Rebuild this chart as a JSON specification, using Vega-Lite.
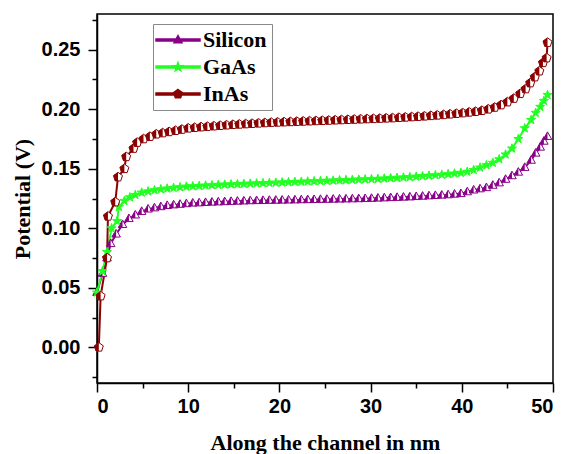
{
"$schema": "https://vega.github.io/schema/vega-lite/v6.json",
"width": 456, "height": 369,
"autosize": {"type": "none"},
"padding": {"left": 97, "top": 14, "right": 12, "bottom": 71},
"background": "white",
"config": {
  "view": {"stroke": "black", "strokeWidth": 1.5},
  "axis": {"domainColor": "black", "domainWidth": 1.5, "tickColor": "black", "tickWidth": 1.5, "grid": false,
    "labelFont": "Liberation Sans", "labelFontWeight": "bold", "labelFontSize": 20, "labelColor": "black",
    "titleFont": "Liberation Serif", "titleFontWeight": "bold", "titleFontSize": 22, "titleColor": "black", "labelOverlap": false},
  "legend": {"orient": "none", "legendX": 56, "legendY": 10, "strokeColor": "#888888", "fillColor": "white",
    "padding": 5, "labelFont": "Liberation Serif", "labelFontSize": 22, "labelFontWeight": "bold", "labelColor": "black",
    "symbolSize": 100, "symbolOffset": 9, "labelOffset": 14, "rowPadding": 5, "symbolOpacity": 1}
},
"data": {"values": [
{"s":"Silicon","x":0,"y":0.046},{"s":"Silicon","x":0.6,"y":0.062},{"s":"Silicon","x":1.1,"y":0.075},{"s":"Silicon","x":1.5,"y":0.087},{"s":"Silicon","x":2.1,"y":0.095},{"s":"Silicon","x":2.8,"y":0.103},{"s":"Silicon","x":3.5,"y":0.108},{"s":"Silicon","x":4.2,"y":0.111},{"s":"Silicon","x":4.9,"y":0.114},{"s":"Silicon","x":5.6,"y":0.116},{"s":"Silicon","x":6.3,"y":0.117},{"s":"Silicon","x":7.0,"y":0.118},{"s":"Silicon","x":7.7,"y":0.119},{"s":"Silicon","x":8.4,"y":0.1195},{"s":"Silicon","x":9.1,"y":0.12},{"s":"Silicon","x":9.8,"y":0.1205},{"s":"Silicon","x":10.5,"y":0.121},{"s":"Silicon","x":11.2,"y":0.1212},{"s":"Silicon","x":11.9,"y":0.1215},{"s":"Silicon","x":12.6,"y":0.1218},{"s":"Silicon","x":13.3,"y":0.122},{"s":"Silicon","x":14.0,"y":0.1222},{"s":"Silicon","x":14.7,"y":0.1224},{"s":"Silicon","x":15.4,"y":0.1226},{"s":"Silicon","x":16.1,"y":0.1228},{"s":"Silicon","x":16.8,"y":0.123},{"s":"Silicon","x":17.5,"y":0.1231},{"s":"Silicon","x":18.2,"y":0.1232},{"s":"Silicon","x":18.9,"y":0.1233},{"s":"Silicon","x":19.6,"y":0.1234},{"s":"Silicon","x":20.3,"y":0.1235},{"s":"Silicon","x":21.0,"y":0.1236},{"s":"Silicon","x":21.7,"y":0.1237},{"s":"Silicon","x":22.4,"y":0.1238},{"s":"Silicon","x":23.1,"y":0.1239},{"s":"Silicon","x":23.8,"y":0.124},{"s":"Silicon","x":24.5,"y":0.1241},{"s":"Silicon","x":25.2,"y":0.1242},{"s":"Silicon","x":25.9,"y":0.1243},{"s":"Silicon","x":26.6,"y":0.1244},{"s":"Silicon","x":27.3,"y":0.1245},{"s":"Silicon","x":28.0,"y":0.1246},{"s":"Silicon","x":28.7,"y":0.1247},{"s":"Silicon","x":29.4,"y":0.1248},{"s":"Silicon","x":30.1,"y":0.125},{"s":"Silicon","x":30.8,"y":0.1252},{"s":"Silicon","x":31.5,"y":0.1254},{"s":"Silicon","x":32.2,"y":0.1256},{"s":"Silicon","x":32.9,"y":0.1258},{"s":"Silicon","x":33.6,"y":0.126},{"s":"Silicon","x":34.3,"y":0.1262},{"s":"Silicon","x":35.0,"y":0.1265},{"s":"Silicon","x":35.7,"y":0.1268},{"s":"Silicon","x":36.4,"y":0.1271},{"s":"Silicon","x":37.1,"y":0.1274},{"s":"Silicon","x":37.8,"y":0.1277},{"s":"Silicon","x":38.5,"y":0.128},{"s":"Silicon","x":39.2,"y":0.1285},{"s":"Silicon","x":39.9,"y":0.129},{"s":"Silicon","x":40.6,"y":0.1305},{"s":"Silicon","x":41.3,"y":0.132},{"s":"Silicon","x":42.0,"y":0.133},{"s":"Silicon","x":42.7,"y":0.134},{"s":"Silicon","x":43.4,"y":0.136},{"s":"Silicon","x":44.1,"y":0.138},{"s":"Silicon","x":44.8,"y":0.141},{"s":"Silicon","x":45.5,"y":0.144},{"s":"Silicon","x":46.2,"y":0.147},{"s":"Silicon","x":46.9,"y":0.151},{"s":"Silicon","x":47.6,"y":0.157},{"s":"Silicon","x":48.1,"y":0.163},{"s":"Silicon","x":48.6,"y":0.168},{"s":"Silicon","x":49.0,"y":0.173},{"s":"Silicon","x":49.4,"y":0.177},
{"s":"GaAs","x":0,"y":0.046},{"s":"GaAs","x":0.6,"y":0.064},{"s":"GaAs","x":1.1,"y":0.08},{"s":"GaAs","x":1.6,"y":0.1},{"s":"GaAs","x":2.2,"y":0.106},{"s":"GaAs","x":2.4,"y":0.118},{"s":"GaAs","x":3.0,"y":0.123},{"s":"GaAs","x":3.6,"y":0.126},{"s":"GaAs","x":4.2,"y":0.128},{"s":"GaAs","x":4.9,"y":0.13},{"s":"GaAs","x":5.6,"y":0.131},{"s":"GaAs","x":6.3,"y":0.132},{"s":"GaAs","x":7.0,"y":0.1328},{"s":"GaAs","x":7.7,"y":0.1334},{"s":"GaAs","x":8.4,"y":0.134},{"s":"GaAs","x":9.1,"y":0.1345},{"s":"GaAs","x":9.8,"y":0.135},{"s":"GaAs","x":10.5,"y":0.1353},{"s":"GaAs","x":11.2,"y":0.1356},{"s":"GaAs","x":11.9,"y":0.1359},{"s":"GaAs","x":12.6,"y":0.1362},{"s":"GaAs","x":13.3,"y":0.1365},{"s":"GaAs","x":14.0,"y":0.1367},{"s":"GaAs","x":14.7,"y":0.1369},{"s":"GaAs","x":15.4,"y":0.1371},{"s":"GaAs","x":16.1,"y":0.1373},{"s":"GaAs","x":16.8,"y":0.1375},{"s":"GaAs","x":17.5,"y":0.1377},{"s":"GaAs","x":18.2,"y":0.1379},{"s":"GaAs","x":18.9,"y":0.1381},{"s":"GaAs","x":19.6,"y":0.1383},{"s":"GaAs","x":20.3,"y":0.1385},{"s":"GaAs","x":21.0,"y":0.1387},{"s":"GaAs","x":21.7,"y":0.1389},{"s":"GaAs","x":22.4,"y":0.1391},{"s":"GaAs","x":23.1,"y":0.1393},{"s":"GaAs","x":23.8,"y":0.1395},{"s":"GaAs","x":24.5,"y":0.1397},{"s":"GaAs","x":25.2,"y":0.1399},{"s":"GaAs","x":25.9,"y":0.1401},{"s":"GaAs","x":26.6,"y":0.1403},{"s":"GaAs","x":27.3,"y":0.1405},{"s":"GaAs","x":28.0,"y":0.1407},{"s":"GaAs","x":28.7,"y":0.1409},{"s":"GaAs","x":29.4,"y":0.1411},{"s":"GaAs","x":30.1,"y":0.1413},{"s":"GaAs","x":30.8,"y":0.1415},{"s":"GaAs","x":31.5,"y":0.1418},{"s":"GaAs","x":32.2,"y":0.1421},{"s":"GaAs","x":32.9,"y":0.1424},{"s":"GaAs","x":33.6,"y":0.1427},{"s":"GaAs","x":34.3,"y":0.143},{"s":"GaAs","x":35.0,"y":0.1434},{"s":"GaAs","x":35.7,"y":0.1438},{"s":"GaAs","x":36.4,"y":0.1442},{"s":"GaAs","x":37.1,"y":0.1446},{"s":"GaAs","x":37.8,"y":0.145},{"s":"GaAs","x":38.5,"y":0.1455},{"s":"GaAs","x":39.2,"y":0.146},{"s":"GaAs","x":39.9,"y":0.1466},{"s":"GaAs","x":40.6,"y":0.1475},{"s":"GaAs","x":41.3,"y":0.149},{"s":"GaAs","x":42.0,"y":0.151},{"s":"GaAs","x":42.7,"y":0.153},{"s":"GaAs","x":43.4,"y":0.155},{"s":"GaAs","x":44.1,"y":0.158},{"s":"GaAs","x":44.8,"y":0.162},{"s":"GaAs","x":45.5,"y":0.167},{"s":"GaAs","x":46.2,"y":0.175},{"s":"GaAs","x":46.9,"y":0.184},{"s":"GaAs","x":47.6,"y":0.191},{"s":"GaAs","x":48.1,"y":0.197},{"s":"GaAs","x":48.6,"y":0.202},{"s":"GaAs","x":49.0,"y":0.207},{"s":"GaAs","x":49.4,"y":0.212},
{"s":"InAs","x":0.2,"y":0.0},{"s":"InAs","x":0.4,"y":0.043},{"s":"InAs","x":1.1,"y":0.075},{"s":"InAs","x":1.2,"y":0.11},{"s":"InAs","x":2.0,"y":0.122},{"s":"InAs","x":2.3,"y":0.143},{"s":"InAs","x":3.0,"y":0.15},{"s":"InAs","x":3.2,"y":0.16},{"s":"InAs","x":4.0,"y":0.167},{"s":"InAs","x":4.4,"y":0.172},{"s":"InAs","x":5.1,"y":0.175},{"s":"InAs","x":5.8,"y":0.177},{"s":"InAs","x":6.5,"y":0.179},{"s":"InAs","x":7.2,"y":0.18},{"s":"InAs","x":7.9,"y":0.181},{"s":"InAs","x":8.6,"y":0.182},{"s":"InAs","x":9.3,"y":0.183},{"s":"InAs","x":10.0,"y":0.184},{"s":"InAs","x":10.7,"y":0.1845},{"s":"InAs","x":11.4,"y":0.185},{"s":"InAs","x":12.1,"y":0.1854},{"s":"InAs","x":12.8,"y":0.1858},{"s":"InAs","x":13.5,"y":0.1862},{"s":"InAs","x":14.2,"y":0.1866},{"s":"InAs","x":14.9,"y":0.187},{"s":"InAs","x":15.6,"y":0.1873},{"s":"InAs","x":16.3,"y":0.1876},{"s":"InAs","x":17.0,"y":0.1879},{"s":"InAs","x":17.7,"y":0.1882},{"s":"InAs","x":18.4,"y":0.1885},{"s":"InAs","x":19.1,"y":0.1888},{"s":"InAs","x":19.8,"y":0.189},{"s":"InAs","x":20.5,"y":0.1892},{"s":"InAs","x":21.2,"y":0.1894},{"s":"InAs","x":21.9,"y":0.1896},{"s":"InAs","x":22.6,"y":0.1898},{"s":"InAs","x":23.3,"y":0.19},{"s":"InAs","x":24.0,"y":0.1902},{"s":"InAs","x":24.7,"y":0.1904},{"s":"InAs","x":25.4,"y":0.1906},{"s":"InAs","x":26.1,"y":0.1908},{"s":"InAs","x":26.8,"y":0.191},{"s":"InAs","x":27.5,"y":0.1912},{"s":"InAs","x":28.2,"y":0.1914},{"s":"InAs","x":28.9,"y":0.1916},{"s":"InAs","x":29.6,"y":0.1918},{"s":"InAs","x":30.3,"y":0.192},{"s":"InAs","x":31.0,"y":0.1922},{"s":"InAs","x":31.7,"y":0.1924},{"s":"InAs","x":32.4,"y":0.1926},{"s":"InAs","x":33.1,"y":0.1929},{"s":"InAs","x":33.8,"y":0.1932},{"s":"InAs","x":34.5,"y":0.1935},{"s":"InAs","x":35.2,"y":0.1938},{"s":"InAs","x":35.9,"y":0.1941},{"s":"InAs","x":36.6,"y":0.1945},{"s":"InAs","x":37.3,"y":0.1949},{"s":"InAs","x":38.0,"y":0.1953},{"s":"InAs","x":38.7,"y":0.1958},{"s":"InAs","x":39.4,"y":0.1963},{"s":"InAs","x":40.1,"y":0.1968},{"s":"InAs","x":40.8,"y":0.1974},{"s":"InAs","x":41.5,"y":0.198},{"s":"InAs","x":42.2,"y":0.1988},{"s":"InAs","x":42.9,"y":0.2},{"s":"InAs","x":43.6,"y":0.2015},{"s":"InAs","x":44.3,"y":0.2035},{"s":"InAs","x":45.0,"y":0.206},{"s":"InAs","x":45.7,"y":0.209},{"s":"InAs","x":46.4,"y":0.213},{"s":"InAs","x":47.0,"y":0.217},{"s":"InAs","x":47.5,"y":0.222},{"s":"InAs","x":48.0,"y":0.227},{"s":"InAs","x":48.5,"y":0.232},{"s":"InAs","x":48.9,"y":0.239},{"s":"InAs","x":49.3,"y":0.243},{"s":"InAs","x":49.4,"y":0.256}
]},
"encoding": {
  "x": {"field": "x", "type": "quantitative", "scale": {"domain": [0, 50], "nice": false, "zero": false},
    "axis": {"title": "Along the channel in nm", "values": [0,5,10,15,20,25,30,35,40,45,50], "format": "d",
      "labelExpr": "datum.value % 10 === 0 ? datum.label : ''",
      "tickSize": {"condition": {"test": "datum.value % 10 === 0", "value": 9}, "value": 5},
      "labelPadding": 4, "titlePadding": 16}},
  "y": {"field": "y", "type": "quantitative", "scale": {"domain": [-0.03, 0.28], "nice": false, "zero": false},
    "axis": {"title": "Potential (V)", "values": [-0.025,0,0.025,0.05,0.075,0.1,0.125,0.15,0.175,0.2,0.225,0.25,0.275], "format": ".2f",
      "labelExpr": "abs(round(datum.value*40)) % 2 === 0 ? datum.label : ''",
      "tickSize": {"condition": {"test": "abs(round(datum.value*40)) % 2 === 0", "value": 9}, "value": 5},
      "labelPadding": 8, "titlePadding": 7}}
},
"layer": [
  {"transform": [{"filter": "false"}],
   "mark": {"type": "point", "filled": true, "opacity": 1, "size": 100},
   "encoding": {
     "color": {"field": "s", "type": "nominal",
       "scale": {"domain": ["Silicon", "GaAs", "InAs"], "range": ["#880088", "#22ff22", "#8b0000"]},
       "legend": {"title": null}},
     "shape": {"field": "s", "type": "nominal",
       "scale": {"domain": ["Silicon", "GaAs", "InAs"], "range": [
         "M-4.4,-0.2L4.4,-0.2L4.4,0.2L-4.4,0.2ZM0,-0.9L0.8,0.55L-0.8,0.55Z",
         "M-4.4,-0.2L4.4,-0.2L4.4,0.2L-4.4,0.2ZM0,-0.9L0.21,-0.29L0.86,-0.28L0.34,0.11L0.53,0.73L0,0.36L-0.53,0.73L-0.34,0.11L-0.86,-0.28L-0.21,-0.29Z",
         "M-4.4,-0.2L4.4,-0.2L4.4,0.2L-4.4,0.2ZM0,-0.9L0.86,-0.28L0.53,0.73L-0.53,0.73L-0.86,-0.28Z"]},
       "legend": {"title": null}}}},
  {"mark": {"type": "line", "strokeWidth": 2},
   "encoding": {"color": {"field": "s", "type": "nominal", "legend": {"title": null}}}},
  {"transform": [{"filter": "datum.s === 'Silicon'"}],
   "mark": {"type": "point", "filled": true, "size": 90, "opacity": 1, "fill": "white", "stroke": "#880088", "strokeWidth": 1, "shape": "M0,-1L0.9,0.6L-0.9,0.6Z"}},
  {"transform": [{"filter": "datum.s === 'Silicon'"}],
   "mark": {"type": "point", "filled": true, "size": 90, "opacity": 1, "fill": "#880088", "shape": "M0,-1L0,0.6L-0.9,0.6Z"}},
  {"transform": [{"filter": "datum.s === 'GaAs'"}],
   "mark": {"type": "point", "filled": true, "size": 90, "opacity": 1, "fill": "#22ff22", "stroke": "#22ff22", "strokeWidth": 1, "shape": "M0,-1L0.235,-0.324L0.951,-0.309L0.38,0.124L0.588,0.809L0,0.4L-0.588,0.809L-0.38,0.124L-0.951,-0.309L-0.235,-0.324Z"}},
  {"transform": [{"filter": "datum.s === 'InAs'"}],
   "mark": {"type": "point", "filled": true, "size": 90, "opacity": 1, "fill": "white", "stroke": "#8b0000", "strokeWidth": 1, "shape": "M0,-1L0.951,-0.309L0.588,0.809L-0.588,0.809L-0.951,-0.309Z"}},
  {"transform": [{"filter": "datum.s === 'InAs'"}],
   "mark": {"type": "point", "filled": true, "size": 90, "opacity": 1, "fill": "#8b0000", "shape": "M0,-1L0,0.809L-0.588,0.809L-0.951,-0.309Z"}}
]
}
